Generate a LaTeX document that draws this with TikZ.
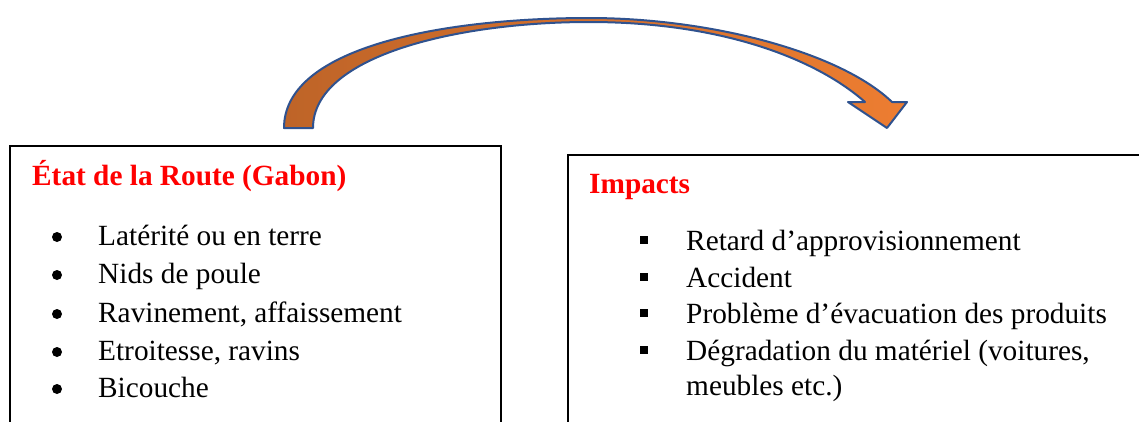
\documentclass[tikz,border=0pt]{standalone}
\usepackage{fontspec}
\setmainfont{Liberation Serif}

\definecolor{titrerouge}{RGB}{255,0,0}
\definecolor{flechefonce}{RGB}{190,100,40}
\definecolor{flecheclair}{RGB}{237,125,49}
\definecolor{flechebord}{RGB}{47,82,143}

\tikzset{
  texte/.style={anchor=base west, inner sep=0pt, font=\fontsize{29.3}{36}\selectfont},
  titre/.style={texte, font=\fontsize{29.3}{36}\selectfont\bfseries, text=titrerouge},
  rond/.style={circle, fill=black, inner sep=0pt, minimum size=10pt},
  carre/.style={rectangle, fill=black, inner sep=0pt, minimum size=8pt},
  cadre/.style={draw=black, line width=1.6pt},
}

\begin{document}
\begin{tikzpicture}[x=1pt, y=-1pt]
    \useasboundingbox (0,0) rectangle (1139,421);
    \clip (0,0) rectangle (1139,421);

    % cadres
    \draw[cadre] (10,460) -- (10,146) -- (501,146) -- (501,460);
    \draw[cadre] (568,460) -- (568,155) -- (1160,155);

    % cadre gauche : état de la route
    \node[titre] (titreG) at (32,185) {État de la Route (Gabon)};
    \node[rond] (pG1) at (57,237) {};
    \node[texte] (tG1) at (98,245) {Latérité ou en terre};
    \node[rond] (pG2) at (57,275) {};
    \node[texte] (tG2) at (98,283) {Nids de poule};
    \node[rond] (pG3) at (57,314) {};
    \node[texte] (tG3) at (98,322) {Ravinement, affaissement};
    \node[rond] (pG4) at (57,352) {};
    \node[texte] (tG4) at (98,360) {Etroitesse, ravins};
    \node[rond] (pG5) at (57,389) {};
    \node[texte] (tG5) at (98,397) {Bicouche};

    % cadre droit : impacts
    \node[titre] (titreD) at (589,193) {Impacts};
    \node[carre] (pD1) at (644,240) {};
    \node[texte] (tD1) at (686,250) {Retard d’approvisionnement};
    \node[carre] (pD2) at (644,277) {};
    \node[texte] (tD2) at (686,287) {Accident};
    \node[carre] (pD3) at (644,313) {};
    \node[texte] (tD3) at (686,323) {Problème d’évacuation des produits};
    \node[carre] (pD4) at (644,350) {};
    \node[texte] (tD4) at (686,360) {Dégradation du matériel (voitures,};
    \node[texte] (tD5) at (686,395) {meubles etc.)};

    % flèche courbe
    \coordinate (baseExt) at (284,128);
    \coordinate (baseInt) at (313,128);
    \coordinate (hautExt) at (589,18);
    \coordinate (hautInt) at (589,22);
    \coordinate (ailG) at (848,102);
    \coordinate (creuxG) at (865,102);
    \coordinate (pointe) at (887,128);
    \coordinate (creuxD) at (892,102);
    \coordinate (ailD) at (907,102);
    \shadedraw[left color=flechefonce, right color=flecheclair,
               draw=flechebord, line width=2pt, line join=round]
        (baseExt) .. controls (284,45) and (450,18) .. (hautExt)
        .. controls (710,18) and (840,52) .. (creuxD)
        -- (ailD) -- (pointe) -- (ailG) -- (creuxG)
        .. controls (815,58) and (720,22) .. (hautInt)
        .. controls (460,22) and (313,55) .. (baseInt) -- cycle;
\end{tikzpicture}
\end{document}
